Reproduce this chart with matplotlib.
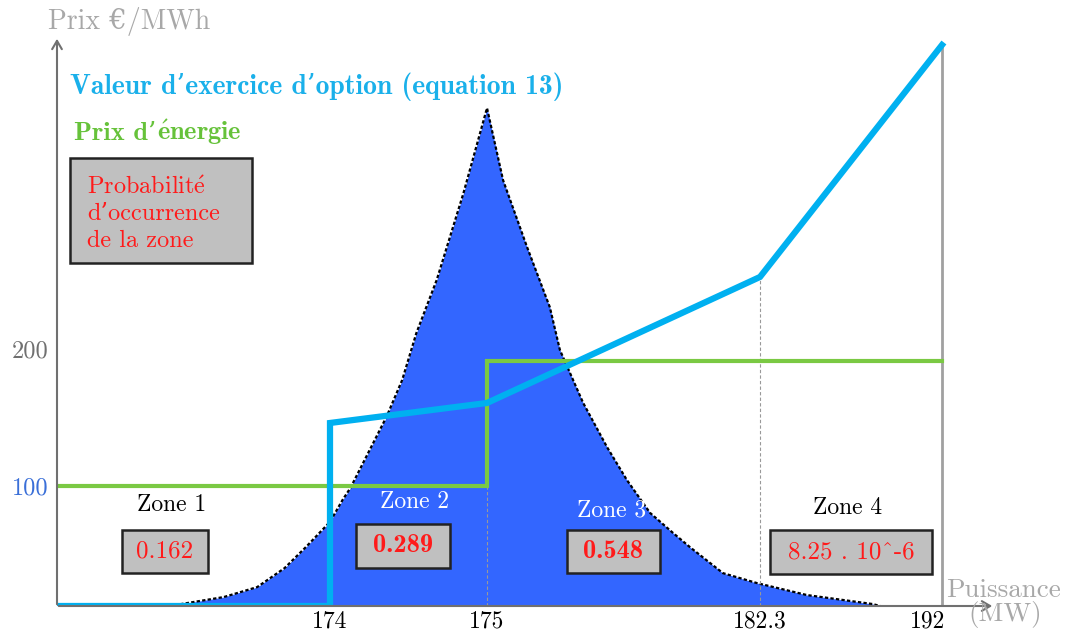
import numpy as np
import matplotlib
matplotlib.use("Agg")
import matplotlib.pyplot as plt
from matplotlib.patches import Rectangle
from matplotlib.transforms import ScaledTranslation

plt.rcParams['font.family'] = ['cmr10', 'DejaVu Serif']
plt.rcParams['axes.unicode_minus'] = False
plt.rcParams['mathtext.fontset'] = 'cm'

# --- data -------------------------------------------------------------
# probability density of the power (normalised, peak = 1)
dens_mw = [168.7, 170.5, 171.6, 172.5, 173.2, 174.0, 174.08, 174.13, 174.36,
           174.46, 174.55, 174.68, 174.85, 175.0, 175.43, 176.07, 176.68,
           176.95, 177.57, 178.21, 178.74, 179.36, 179.97, 180.43, 181.31,
           182.22, 184.8, 188.3, 188.7]
dens_val = [0.0, 0.018, 0.038, 0.076, 0.118, 0.169, 0.213, 0.237, 0.380,
            0.454, 0.548, 0.655, 0.829, 1.0, 0.855, 0.721, 0.600,
            0.514, 0.408, 0.319, 0.253, 0.187, 0.147, 0.118, 0.066,
            0.046, 0.022, 0.004, 0.0]

# option exercise value (equation 13)
opt_mw = [165, 174, 174, 175, 182.3, 192]
opt_val = [0, 0, 146, 160.6, 252.6, 422]

# energy price
nrj_mw = [165, 175, 175, 192]
nrj_val = [100, 100, 191, 191]

xticks = [174, 175, 182.3, 192]
xtick_labels = ['174', '175', '182.3', '192']
yticks = [100, 200]
ytick_labels = ['100', '200']
ytick_colors = ['#3a6fd8', '#707070']

zones = ['Zone 1', 'Zone 2', 'Zone 3', 'Zone 4']
zone_probs = ['0.162', '0.289', '0.548', '8.25 . 10^-6']

# schematic (non-linear) axes
x_pts = [165, 174, 175, 182.3, 192, 195]
x_pos = [57, 330, 487, 760, 942, 985]
y_pts = [0, 100, 200, 430]
y_pos = [0, 120, 257, 572]


def fx(v):
    return np.interp(v, x_pts, x_pos)


def ifx(v):
    return np.interp(v, x_pos, x_pts)


def fy(v):
    return np.interp(v, y_pts, y_pos)


def ify(v):
    return np.interp(v, y_pos, y_pts)


W, H = 1070, 636


def P(x, y):
    return x / W, 1 - y / H


fig = plt.figure(figsize=(W / 100, H / 100), dpi=100)
ax = fig.add_axes([57 / W, 30 / H, (985 - 57) / W, (606 - 34) / H])
ax.set_xscale('function', functions=(fx, ifx))
ax.set_yscale('function', functions=(fy, ify))
ax.set_xlim(165, 195)
ax.set_ylim(0, 430)
ax.patch.set_alpha(0)
for s in ax.spines.values():
    s.set_visible(False)

ax2 = ax.twinx()
ax2.set_ylim(0, 572 / 498)
ax2.axis('off')
ax2.set_zorder(0)
ax.set_zorder(1)

# density
ax2.fill_between(dens_mw, dens_val, 0, color='#3366ff', lw=0)
ax2.plot(dens_mw, dens_val, color='black', lw=1.6, ls=(0, (1.5, 1)))

# guides
ax.plot([175, 175], [0, nrj_val[2]], color='#999999', lw=0.8, ls=(0, (3, 2)))
ax.plot([182.3, 182.3], [0, opt_val[4]], color='#999999', lw=0.8, ls=(0, (3, 2)))
ax.plot([192, 192], [0, opt_val[5]], color='#a0a0a0', lw=2)

ax.plot(nrj_mw, nrj_val, color='#7ac943', lw=3, solid_joinstyle='miter')
ax.plot(opt_mw, opt_val, color='#00b0f0', lw=4.5, solid_joinstyle='miter')

# ticks
ax.set_xticks(xticks)
ax.set_xticklabels(xtick_labels, fontsize=17)
ax.tick_params(axis='x', length=0, pad=3)
ax.set_yticks(yticks)
ax.set_yticklabels(ytick_labels, fontsize=17.5)
ax.tick_params(axis='y', length=0, pad=6)
for lab, c in zip(ax.get_yticklabels(), ytick_colors):
    lab.set_color(c)
ax.minorticks_off()
last = ax.get_xticklabels()[-1]
last.set_transform(last.get_transform() + ScaledTranslation(-0.14, 0, fig.dpi_scale_trans))

# axes arrows
ax.annotate('', xy=P(57, 36), xytext=P(57, 607), xycoords='figure fraction',
            arrowprops=dict(arrowstyle='->,head_length=0.6,head_width=0.35',
                            color='#707070', lw=1.5))
ax.annotate('', xy=P(995, 606), xytext=P(56, 606), xycoords='figure fraction',
            arrowprops=dict(arrowstyle='->,head_length=0.6,head_width=0.35',
                            color='#707070', lw=1.5))

grey = '#a8a8a8'
fig.text(*P(48, 22), 'Prix €/MWh', color=grey, fontsize=20, va='center')
fig.text(*P(946, 590), 'Puissance', color=grey, fontsize=19.5, va='center')
fig.text(*P(968, 615), '(MW)', color=grey, fontsize=19.5, va='center')

bold = ['cmb10', 'DejaVu Serif']
fig.text(*P(70, 87), 'Valeur d’exercice d’option (equation 13)',
         color='#1ab0ea', fontsize=19.9, family=bold, va='center')
t1 = fig.text(*P(74, 140), 'Prix d’', color='#66c23a', fontsize=19,
              family=bold, va='baseline')
fig.text(0, 0, r'$\mathbf{\acute{e}}$nergie', color='#66c23a', fontsize=19,
         family=bold, va='baseline', ha='left',
         transform=t1.get_transform() + ScaledTranslation(0, 0, fig.dpi_scale_trans))
# place the second part right after the first one
fig.canvas.draw()
bb = t1.get_window_extent()
fig.texts[-1].set_transform(fig.transFigure)
fig.texts[-1].set_position(((bb.x1 + 1) / W, t1.get_position()[1]))

# legend box
x0, y0 = P(70, 263)
x1, y1 = P(252, 158)
fig.patches.append(Rectangle((x0, y0), x1 - x0, y1 - y0, transform=fig.transFigure,
                             facecolor='#c0c0c0', edgecolor='#222222', lw=1.8))
fig.text(*P(87, 214), 'Probabilit$\\mathrm{\\acute{e}}$\nd’occurrence\nde la zone',
         color='#ff1a1a', fontsize=17.5, va='center', linespacing=1.25)

# zone labels and probabilities
zone_lab_xy = [(172, 505), (415, 502), (612, 510), (848, 508)]
zone_lab_col = ['black', 'white', 'white', 'black']
box_rects = [(122, 530, 208, 573), (356, 524, 450, 568),
             (567, 530, 660, 573), (770, 530, 932, 574)]
box_bold = [False, True, True, False]
for name, p, (zx, zy), zc, (bx0, by0, bx1, by1), bb in zip(
        zones, zone_probs, zone_lab_xy, zone_lab_col, box_rects, box_bold):
    fig.text(*P(zx, zy), name, color=zc, fontsize=17, ha='center', va='center')
    a0, b0 = P(bx0, by1)
    a1, b1 = P(bx1, by0)
    fig.patches.append(Rectangle((a0, b0), a1 - a0, b1 - b0,
                                 transform=fig.transFigure, facecolor='#c0c0c0',
                                 edgecolor='#222222', lw=1.8, zorder=3))
    fig.text(*P((bx0 + bx1) / 2, (by0 + by1) / 2), p, color='#ff1a1a',
             fontsize=19 if bb else 18, ha='center', va='center', zorder=4,
             family=bold if bb else ['cmr10', 'DejaVu Serif'])

fig.savefig('out.png', dpi=100)
